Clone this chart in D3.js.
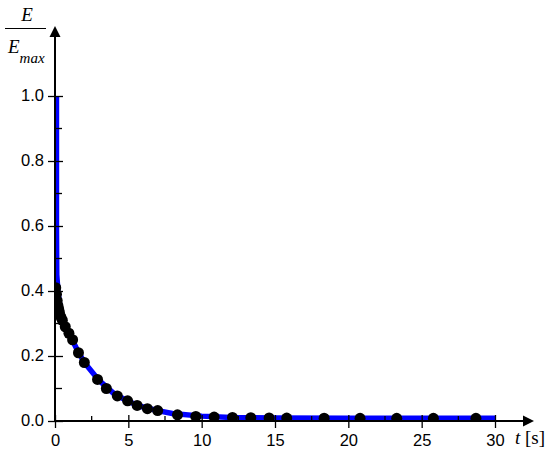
<!DOCTYPE html>
<html>
<head>
<meta charset="utf-8">
<script src="https://cdn.jsdelivr.net/npm/d3@7"></script>
<style>
  body { margin: 0; background: #fff; }
  svg { display: block; }
</style>
</head>
<body>
<svg id="chart" width="550" height="456"></svg>
<script>
// measured points (t in s, E/Emax)
let dotT = [0.05, 0.1, 0.15, 0.2, 0.25, 0.3, 0.4, 0.5, 0.7, 0.95, 1.2, 1.6, 2.0, 2.9, 3.5, 4.25, 4.95,
  5.6, 6.3, 7.0, 8.35, 9.6, 10.85, 12.1, 13.35, 14.6, 15.8, 18.35, 20.8, 23.3, 25.8, 28.7]
let dotE = [0.41, 0.39, 0.37, 0.355, 0.345, 0.335, 0.32, 0.31, 0.29, 0.27, 0.25, 0.21, 0.18, 0.128, 0.1, 0.077, 0.062,
  0.048, 0.038, 0.032, 0.019, 0.014, 0.012, 0.011, 0.01, 0.0095, 0.009, 0.0085, 0.0083, 0.0083, 0.0083, 0.0083]

// fitted curve (blue)
let fitT = [0.1, 0.1, 0.12, 0.2, 0.4, 0.7, 1, 1.5, 2, 3, 4, 5, 6, 7, 8, 10, 12, 15, 20, 30]
let fitE = [1.0, 0.6, 0.45, 0.40, 0.33, 0.29, 0.265, 0.22, 0.18, 0.125, 0.085, 0.06, 0.043, 0.032, 0.023, 0.015, 0.011, 0.009, 0.0083, 0.0083]

let xTicks = [0, 5, 10, 15, 20, 25, 30]
let xMinor = [2.5, 7.5, 12.5, 17.5, 22.5, 27.5]
let yTicks = [0, 0.2, 0.4, 0.6, 0.8, 1.0]
let yMinor = [0.1, 0.3, 0.5, 0.7, 0.9]

let sansFont = '"Liberation Sans", Arial, sans-serif'
let serifFont = '"Liberation Serif", "Times New Roman", serif'

let svg = d3.select('#chart')

let x = d3.scaleLinear().domain([0, 30]).range([55, 495])
let y = d3.scaleLinear().domain([0, 1]).range([421, 96])

svg.append('defs').append('clipPath').attr('id', 'clip')
  .append('rect').attr('x', 55).attr('y', 20).attr('width', 480).attr('height', 401)

let plot = svg.append('g').attr('clip-path', 'url(#clip)')

plot.append('path')
  .datum(fitE)
  .attr('d', d3.line().x((d, i) => x(fitT[i])).y(d => y(d)))
  .attr('fill', 'none')
  .attr('stroke', '#0000ff')
  .attr('stroke-width', 5.5)

plot.selectAll('circle')
  .data(dotE)
  .enter()
  .append('circle')
  .attr('cx', (d, i) => x(dotT[i]))
  .attr('cy', d => y(d))
  .attr('r', 5.5)
  .attr('fill', '#000')

// axes
let yAxis = svg.append('g')
  .attr('transform', 'translate(55,0)')
  .call(d3.axisLeft(y).tickValues(yTicks).tickFormat(d3.format('.1f')).tickSize(7).tickPadding(4))
yAxis.select('.domain').remove()
yAxis.selectAll('.tick line').attr('x2', 8).attr('x1', -7).attr('stroke-width', 1.3)
yAxis.selectAll('.tick text').attr('dy', '0.3em')
  .style('font-family', sansFont).style('font-size', '16.5px').attr('fill', '#000')

svg.selectAll('.yminor')
  .data(yMinor)
  .enter()
  .append('line')
  .attr('x1', 55).attr('x2', 62)
  .attr('y1', d => y(d)).attr('y2', d => y(d))
  .attr('stroke', '#000').attr('stroke-width', 1.3)

let xAxis = svg.append('g')
  .attr('transform', 'translate(0,421)')
  .call(d3.axisBottom(x).tickValues(xTicks).tickSize(7).tickPadding(6))
xAxis.select('.domain').remove()
xAxis.selectAll('.tick line').attr('y1', -6).attr('stroke-width', 1.3)
xAxis.selectAll('.tick text')
  .style('font-family', sansFont).style('font-size', '16.5px').attr('fill', '#000')

svg.selectAll('.xminor')
  .data(xMinor)
  .enter()
  .append('line')
  .attr('x1', d => x(d)).attr('x2', d => x(d))
  .attr('y1', 416).attr('y2', 421)
  .attr('stroke', '#000').attr('stroke-width', 1.3)

// axis lines with arrows
svg.append('line').attr('x1', 55).attr('x2', 55).attr('y1', 422).attr('y2', 34)
  .attr('stroke', '#000').attr('stroke-width', 2)
svg.append('path').attr('d', 'M55,26 L49.5,37 L60.5,37 Z').attr('fill', '#000')

svg.append('line').attr('x1', 54).attr('x2', 525).attr('y1', 421).attr('y2', 421)
  .attr('stroke', '#000').attr('stroke-width', 2)
svg.append('path').attr('d', 'M534,421 L523,415.5 L523,426.5 Z').attr('fill', '#000')

// titles
let xt = svg.append('text').attr('x', 515).attr('y', 443.5)
  .style('font-family', serifFont).style('font-size', '19px')
xt.append('tspan').style('font-style', 'italic').text('t')
xt.append('tspan').text(' [s]')

svg.append('text').attr('x', 27).attr('y', 20.7)
  .attr('text-anchor', 'middle')
  .style('font-family', serifFont).style('font-size', '19px').style('font-style', 'italic')
  .text('E')
svg.append('line').attr('x1', 5).attr('x2', 46).attr('y1', 28.5).attr('y2', 28.5)
  .attr('stroke', '#000').attr('stroke-width', 1.2)
let yt = svg.append('text').attr('x', 8).attr('y', 53.3)
  .style('font-family', serifFont).style('font-size', '19px').style('font-style', 'italic')
yt.append('tspan').text('E')
yt.append('tspan').style('font-size', '15px').attr('dy', 10).text('max')
</script>
</body>
</html>
